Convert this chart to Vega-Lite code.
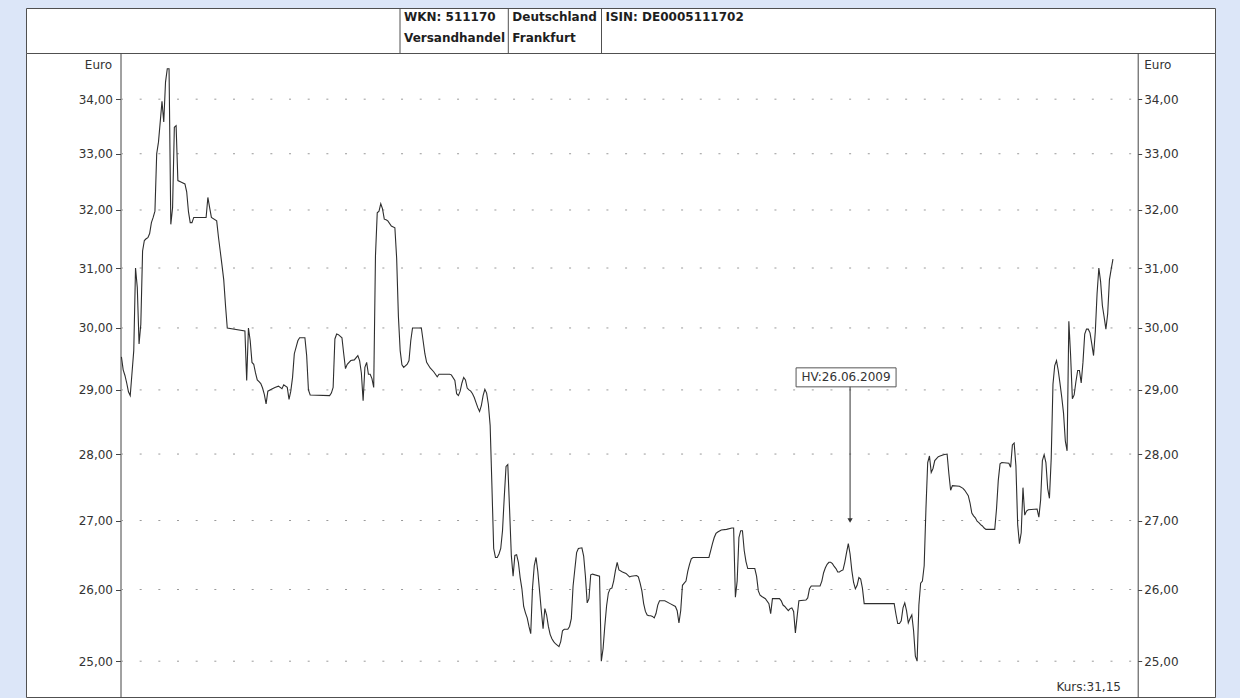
{
  "$schema": "https://vega.github.io/schema/vega-lite/v6.json",
  "background": "#dce6f8",
  "padding": {"left": 25, "top": 7, "right": 26, "bottom": 0},
  "spacing": 0,
  "bounds": "flush",
  "config": {
    "font": "DejaVu Sans",
    "view": {"stroke": "#505050", "strokeWidth": 1, "fill": "#ffffff"},
    "axis": {"labelFont": "DejaVu Sans", "titleFont": "DejaVu Sans"}
  },
  "vconcat": [
    {
      "width": 1189,
      "height": 45,
      "data": {"values": [
        {"col": 1, "line": "1", "text": "WKN: 511170"},
        {"col": 1, "line": "2", "text": "Versandhandel"},
        {"col": 2, "line": "1", "text": "Deutschland"},
        {"col": 2, "line": "2", "text": "Frankfurt"},
        {"col": 3, "line": "1", "text": "ISIN: DE0005111702"}
      ]},
      "layer": [
        {
          "transform": [{"filter": "datum.line == '1'"}],
          "mark": {"type": "rule", "stroke": "#505050", "strokeWidth": 1},
          "encoding": {
            "x": {"field": "col", "type": "quantitative", "axis": null,
                  "scale": {"domain": [0, 1, 2, 3, 4], "range": [0, 374, 482.3, 575.5, 1189], "nice": false, "zero": false}}
          }
        },
        {
          "mark": {"type": "text", "align": "left", "baseline": "middle", "dx": 4, "font": "DejaVu Sans", "fontWeight": "bold", "fontSize": 12, "color": "#1e1e1e"},
          "encoding": {
            "x": {"field": "col", "type": "quantitative", "axis": null,
                  "scale": {"domain": [0, 1, 2, 3, 4], "range": [0, 374, 482.3, 575.5, 1189], "nice": false, "zero": false}},
            "y": {"field": "line", "type": "ordinal", "axis": null,
                  "scale": {"type": "point", "domain": ["1", "2"], "padding": 0.571, "align": 0.3625}},
            "text": {"field": "text"}
          }
        }
      ]
    },
    {
      "width": 1189,
      "height": 644,
      "resolve": {"axis": {"y": "independent"}},
      "layer": [
        {
          "data": {"values": [{"value": 25}, {"value": 26}, {"value": 27}, {"value": 28}, {"value": 29}, {"value": 30}, {"value": 31}, {"value": 32}, {"value": 33}, {"value": 34}]},
          "mark": {"type": "rule", "stroke": "#9a9a9a", "strokeWidth": 1, "strokeDash": [2, 16.67]},
          "encoding": {
            "x": {"datum": {"year": 2008, "month": 5, "date": 8, "hours": 18, "minutes": 15, "utc": true}, "type": "temporal", "axis": null,
                  "scale": {"type": "utc", "domain": [{"year": 2008, "month": 3, "date": 15, "hours": 22, "minutes": 5, "utc": true}, {"year": 2010, "month": 1, "date": 18, "hours": 20, "minutes": 10, "utc": true}]}},
            "x2": {"datum": {"year": 2009, "month": 12, "date": 6, "hours": 5, "utc": true}},
            "y": {"field": "value", "type": "quantitative",
                  "scale": {"type": "log", "domain": [24.515, 34.87], "nice": false, "zero": false},
                  "axis": {"orient": "right", "offset": -77.3, "values": [25, 26, 27, 28, 29, 30, 31, 32, 33, 34],
                           "labelExpr": "replace(format(datum.value, '.2f'), '.', ',')",
                           "tickSize": 4, "tickColor": "#444", "domainColor": "#444", "labelPadding": 2,
                           "labelFontSize": 12, "labelColor": "#333", "labelOverlap": false, "grid": false,
                           "title": "Euro", "titleAngle": 0, "titleAlign": "left", "titleBaseline": "middle",
                           "titleX": 6, "titleY": 11, "titleFontSize": 12, "titleFontWeight": "normal", "titleColor": "#333"}}
          }
        },
        {
          "data": {"values": [
{"date":"2008-05-09","price":29.53},{"date":"2008-05-10","price":29.32},{"date":"2008-05-11","price":29.23},{"date":"2008-05-12","price":29.11},{"date":"2008-05-13","price":28.97},{"date":"2008-05-14","price":28.91},{"date":"2008-05-15","price":29.27},{"date":"2008-05-16","price":29.63},{"date":"2008-05-17","price":31.0},{"date":"2008-05-18","price":30.67},{"date":"2008-05-19","price":29.74},{"date":"2008-05-20","price":30.06},{"date":"2008-05-21","price":31.29},{"date":"2008-05-22","price":31.47},{"date":"2008-05-23","price":31.5},{"date":"2008-05-24","price":31.52},{"date":"2008-05-25","price":31.59},{"date":"2008-05-26","price":31.78},{"date":"2008-05-27","price":31.87},{"date":"2008-05-28","price":31.98},{"date":"2008-05-29","price":33.0},{"date":"2008-05-30","price":33.21},{"date":"2008-05-31","price":33.58},{"date":"2008-06-01","price":33.96},{"date":"2008-06-02","price":33.58},{"date":"2008-06-03","price":34.32},{"date":"2008-06-04","price":34.57},{"date":"2008-06-05","price":34.57},{"date":"2008-06-06","price":31.75},{"date":"2008-06-07","price":32.04},{"date":"2008-06-08","price":33.48},{"date":"2008-06-09","price":33.51},{"date":"2008-06-10","price":32.52},{"date":"2008-06-12","price":32.49},{"date":"2008-06-14","price":32.46},{"date":"2008-06-15","price":32.32},{"date":"2008-06-16","price":31.97},{"date":"2008-06-17","price":31.78},{"date":"2008-06-18","price":31.78},{"date":"2008-06-19","price":31.87},{"date":"2008-06-26","price":31.87},{"date":"2008-06-27","price":32.22},{"date":"2008-06-28","price":32.04},{"date":"2008-06-29","price":31.87},{"date":"2008-07-02","price":31.81},{"date":"2008-07-03","price":31.53},{"date":"2008-07-04","price":31.29},{"date":"2008-07-05","price":31.05},{"date":"2008-07-06","price":30.8},{"date":"2008-07-07","price":30.37},{"date":"2008-07-08","price":30.0},{"date":"2008-07-18","price":29.95},{"date":"2008-07-19","price":29.15},{"date":"2008-07-20","price":30.0},{"date":"2008-07-21","price":29.79},{"date":"2008-07-22","price":29.44},{"date":"2008-07-23","price":29.41},{"date":"2008-07-24","price":29.27},{"date":"2008-07-25","price":29.16},{"date":"2008-07-26","price":29.13},{"date":"2008-07-27","price":29.1},{"date":"2008-07-28","price":29.03},{"date":"2008-07-29","price":28.93},{"date":"2008-07-30","price":28.78},{"date":"2008-07-31","price":28.98},{"date":"2008-08-02","price":29.01},{"date":"2008-08-04","price":29.04},{"date":"2008-08-06","price":29.06},{"date":"2008-08-08","price":29.02},{"date":"2008-08-09","price":29.08},{"date":"2008-08-11","price":29.04},{"date":"2008-08-12","price":28.85},{"date":"2008-08-13","price":28.98},{"date":"2008-08-14","price":29.2},{"date":"2008-08-15","price":29.58},{"date":"2008-08-17","price":29.79},{"date":"2008-08-18","price":29.84},{"date":"2008-08-21","price":29.84},{"date":"2008-08-22","price":29.55},{"date":"2008-08-23","price":29.0},{"date":"2008-08-24","price":28.92},{"date":"2008-09-04","price":28.91},{"date":"2008-09-05","price":28.95},{"date":"2008-09-06","price":29.04},{"date":"2008-09-07","price":29.82},{"date":"2008-09-08","price":29.9},{"date":"2008-09-09","price":29.89},{"date":"2008-09-11","price":29.84},{"date":"2008-09-12","price":29.58},{"date":"2008-09-13","price":29.34},{"date":"2008-09-14","price":29.41},{"date":"2008-09-16","price":29.47},{"date":"2008-09-18","price":29.48},{"date":"2008-09-20","price":29.55},{"date":"2008-09-21","price":29.47},{"date":"2008-09-22","price":29.27},{"date":"2008-09-23","price":28.83},{"date":"2008-09-24","price":29.36},{"date":"2008-09-25","price":29.44},{"date":"2008-09-26","price":29.25},{"date":"2008-09-27","price":29.25},{"date":"2008-09-28","price":29.18},{"date":"2008-09-29","price":29.04},{"date":"2008-09-30","price":31.21},{"date":"2008-10-01","price":31.95},{"date":"2008-10-02","price":31.98},{"date":"2008-10-03","price":32.11},{"date":"2008-10-04","price":32.02},{"date":"2008-10-05","price":31.84},{"date":"2008-10-06","price":31.83},{"date":"2008-10-07","price":31.81},{"date":"2008-10-09","price":31.72},{"date":"2008-10-11","price":31.69},{"date":"2008-10-12","price":31.17},{"date":"2008-10-13","price":30.19},{"date":"2008-10-14","price":29.63},{"date":"2008-10-15","price":29.4},{"date":"2008-10-16","price":29.36},{"date":"2008-10-18","price":29.41},{"date":"2008-10-19","price":29.47},{"date":"2008-10-20","price":29.79},{"date":"2008-10-21","price":30.0},{"date":"2008-10-26","price":30.0},{"date":"2008-10-27","price":29.79},{"date":"2008-10-28","price":29.58},{"date":"2008-10-29","price":29.44},{"date":"2008-10-31","price":29.35},{"date":"2008-11-02","price":29.29},{"date":"2008-11-04","price":29.21},{"date":"2008-11-05","price":29.25},{"date":"2008-11-11","price":29.25},{"date":"2008-11-12","price":29.24},{"date":"2008-11-14","price":29.15},{"date":"2008-11-15","price":28.94},{"date":"2008-11-16","price":28.91},{"date":"2008-11-17","price":28.98},{"date":"2008-11-18","price":29.11},{"date":"2008-11-19","price":29.2},{"date":"2008-11-20","price":29.16},{"date":"2008-11-21","price":29.03},{"date":"2008-11-22","price":29.0},{"date":"2008-11-23","price":28.98},{"date":"2008-11-24","price":28.94},{"date":"2008-11-25","price":28.88},{"date":"2008-11-26","price":28.8},{"date":"2008-11-27","price":28.72},{"date":"2008-11-28","price":28.66},{"date":"2008-11-29","price":28.75},{"date":"2008-11-30","price":28.91},{"date":"2008-12-01","price":29.01},{"date":"2008-12-02","price":28.95},{"date":"2008-12-03","price":28.77},{"date":"2008-12-04","price":28.44},{"date":"2008-12-05","price":27.52},{"date":"2008-12-06","price":26.59},{"date":"2008-12-07","price":26.46},{"date":"2008-12-08","price":26.46},{"date":"2008-12-09","price":26.51},{"date":"2008-12-10","price":26.59},{"date":"2008-12-11","price":26.85},{"date":"2008-12-12","price":27.35},{"date":"2008-12-13","price":27.81},{"date":"2008-12-14","price":27.84},{"date":"2008-12-15","price":27.17},{"date":"2008-12-16","price":26.49},{"date":"2008-12-17","price":26.19},{"date":"2008-12-18","price":26.49},{"date":"2008-12-19","price":26.5},{"date":"2008-12-20","price":26.39},{"date":"2008-12-21","price":26.17},{"date":"2008-12-22","price":26.01},{"date":"2008-12-23","price":25.76},{"date":"2008-12-24","price":25.67},{"date":"2008-12-25","price":25.6},{"date":"2008-12-26","price":25.48},{"date":"2008-12-27","price":25.38},{"date":"2008-12-28","price":26.02},{"date":"2008-12-29","price":26.34},{"date":"2008-12-30","price":26.46},{"date":"2008-12-31","price":26.26},{"date":"2009-01-01","price":25.98},{"date":"2009-01-02","price":25.7},{"date":"2009-01-03","price":25.45},{"date":"2009-01-04","price":25.73},{"date":"2009-01-05","price":25.64},{"date":"2009-01-06","price":25.48},{"date":"2009-01-07","price":25.37},{"date":"2009-01-08","price":25.31},{"date":"2009-01-09","price":25.27},{"date":"2009-01-10","price":25.24},{"date":"2009-01-11","price":25.22},{"date":"2009-01-12","price":25.2},{"date":"2009-01-13","price":25.27},{"date":"2009-01-14","price":25.42},{"date":"2009-01-15","price":25.44},{"date":"2009-01-17","price":25.44},{"date":"2009-01-18","price":25.48},{"date":"2009-01-19","price":25.59},{"date":"2009-01-20","price":26.05},{"date":"2009-01-21","price":26.29},{"date":"2009-01-22","price":26.53},{"date":"2009-01-23","price":26.59},{"date":"2009-01-25","price":26.6},{"date":"2009-01-26","price":26.48},{"date":"2009-01-27","price":26.19},{"date":"2009-01-28","price":25.81},{"date":"2009-01-29","price":25.87},{"date":"2009-01-30","price":26.21},{"date":"2009-01-31","price":26.22},{"date":"2009-02-04","price":26.19},{"date":"2009-02-05","price":25.0},{"date":"2009-02-06","price":25.17},{"date":"2009-02-07","price":25.49},{"date":"2009-02-08","price":25.77},{"date":"2009-02-09","price":25.95},{"date":"2009-02-10","price":26.01},{"date":"2009-02-11","price":26.02},{"date":"2009-02-12","price":26.12},{"date":"2009-02-13","price":26.27},{"date":"2009-02-14","price":26.39},{"date":"2009-02-15","price":26.28},{"date":"2009-02-17","price":26.25},{"date":"2009-02-19","price":26.23},{"date":"2009-02-21","price":26.18},{"date":"2009-02-22","price":26.19},{"date":"2009-02-25","price":26.2},{"date":"2009-02-26","price":26.18},{"date":"2009-02-27","price":26.09},{"date":"2009-02-28","price":25.98},{"date":"2009-03-01","price":25.8},{"date":"2009-03-02","price":25.69},{"date":"2009-03-03","price":25.64},{"date":"2009-03-04","price":25.63},{"date":"2009-03-05","price":25.63},{"date":"2009-03-06","price":25.62},{"date":"2009-03-07","price":25.6},{"date":"2009-03-08","price":25.66},{"date":"2009-03-09","price":25.78},{"date":"2009-03-10","price":25.84},{"date":"2009-03-13","price":25.84},{"date":"2009-03-16","price":25.8},{"date":"2009-03-19","price":25.76},{"date":"2009-03-20","price":25.7},{"date":"2009-03-21","price":25.53},{"date":"2009-03-22","price":25.7},{"date":"2009-03-23","price":26.06},{"date":"2009-03-24","price":26.09},{"date":"2009-03-25","price":26.12},{"date":"2009-03-26","price":26.26},{"date":"2009-03-27","price":26.36},{"date":"2009-03-28","price":26.44},{"date":"2009-03-29","price":26.46},{"date":"2009-04-07","price":26.46},{"date":"2009-04-08","price":26.56},{"date":"2009-04-09","price":26.66},{"date":"2009-04-10","price":26.75},{"date":"2009-04-11","price":26.81},{"date":"2009-04-12","price":26.83},{"date":"2009-04-14","price":26.86},{"date":"2009-04-17","price":26.87},{"date":"2009-04-20","price":26.89},{"date":"2009-04-21","price":26.89},{"date":"2009-04-22","price":25.89},{"date":"2009-04-23","price":26.12},{"date":"2009-04-24","price":26.75},{"date":"2009-04-25","price":26.85},{"date":"2009-04-26","price":26.85},{"date":"2009-04-27","price":26.56},{"date":"2009-04-28","price":26.4},{"date":"2009-04-29","price":26.3},{"date":"2009-05-03","price":26.3},{"date":"2009-05-04","price":26.19},{"date":"2009-05-05","price":25.98},{"date":"2009-05-06","price":25.92},{"date":"2009-05-07","price":25.9},{"date":"2009-05-09","price":25.87},{"date":"2009-05-11","price":25.8},{"date":"2009-05-12","price":25.66},{"date":"2009-05-13","price":25.87},{"date":"2009-05-17","price":25.87},{"date":"2009-05-18","price":25.84},{"date":"2009-05-19","price":25.78},{"date":"2009-05-20","price":25.76},{"date":"2009-05-21","price":25.73},{"date":"2009-05-22","price":25.7},{"date":"2009-05-23","price":25.73},{"date":"2009-05-24","price":25.74},{"date":"2009-05-25","price":25.69},{"date":"2009-05-26","price":25.39},{"date":"2009-05-27","price":25.62},{"date":"2009-05-28","price":25.84},{"date":"2009-06-01","price":25.85},{"date":"2009-06-02","price":25.88},{"date":"2009-06-03","price":26.01},{"date":"2009-06-04","price":26.05},{"date":"2009-06-09","price":26.05},{"date":"2009-06-10","price":26.12},{"date":"2009-06-11","price":26.24},{"date":"2009-06-12","price":26.31},{"date":"2009-06-13","price":26.36},{"date":"2009-06-14","price":26.39},{"date":"2009-06-15","price":26.39},{"date":"2009-06-16","price":26.37},{"date":"2009-06-17","price":26.33},{"date":"2009-06-18","price":26.3},{"date":"2009-06-19","price":26.25},{"date":"2009-06-20","price":26.25},{"date":"2009-06-21","price":26.27},{"date":"2009-06-22","price":26.28},{"date":"2009-06-23","price":26.39},{"date":"2009-06-24","price":26.53},{"date":"2009-06-25","price":26.66},{"date":"2009-06-26","price":26.51},{"date":"2009-06-27","price":26.27},{"date":"2009-06-28","price":26.1},{"date":"2009-06-29","price":26.01},{"date":"2009-06-30","price":26.06},{"date":"2009-07-01","price":26.17},{"date":"2009-07-02","price":26.15},{"date":"2009-07-03","price":26.02},{"date":"2009-07-04","price":25.8},{"date":"2009-07-21","price":25.8},{"date":"2009-07-22","price":25.65},{"date":"2009-07-23","price":25.52},{"date":"2009-07-24","price":25.52},{"date":"2009-07-25","price":25.56},{"date":"2009-07-26","price":25.74},{"date":"2009-07-27","price":25.81},{"date":"2009-07-28","price":25.7},{"date":"2009-07-29","price":25.53},{"date":"2009-07-30","price":25.59},{"date":"2009-07-31","price":25.64},{"date":"2009-08-01","price":25.42},{"date":"2009-08-02","price":25.07},{"date":"2009-08-03","price":25.0},{"date":"2009-08-04","price":25.78},{"date":"2009-08-05","price":26.09},{"date":"2009-08-06","price":26.12},{"date":"2009-08-07","price":26.34},{"date":"2009-08-08","price":27.17},{"date":"2009-08-09","price":27.87},{"date":"2009-08-10","price":27.97},{"date":"2009-08-11","price":27.72},{"date":"2009-08-12","price":27.78},{"date":"2009-08-13","price":27.9},{"date":"2009-08-14","price":27.93},{"date":"2009-08-15","price":27.96},{"date":"2009-08-16","price":27.97},{"date":"2009-08-18","price":27.99},{"date":"2009-08-20","price":28.0},{"date":"2009-08-21","price":27.7},{"date":"2009-08-22","price":27.45},{"date":"2009-08-23","price":27.52},{"date":"2009-08-27","price":27.51},{"date":"2009-08-29","price":27.48},{"date":"2009-08-30","price":27.45},{"date":"2009-08-31","price":27.41},{"date":"2009-09-01","price":27.37},{"date":"2009-09-02","price":27.26},{"date":"2009-09-03","price":27.11},{"date":"2009-09-04","price":27.07},{"date":"2009-09-05","price":27.04},{"date":"2009-09-06","price":26.99},{"date":"2009-09-07","price":26.97},{"date":"2009-09-08","price":26.94},{"date":"2009-09-09","price":26.92},{"date":"2009-09-10","price":26.89},{"date":"2009-09-11","price":26.87},{"date":"2009-09-16","price":26.87},{"date":"2009-09-17","price":27.17},{"date":"2009-09-18","price":27.6},{"date":"2009-09-19","price":27.85},{"date":"2009-09-20","price":27.87},{"date":"2009-09-24","price":27.86},{"date":"2009-09-25","price":27.8},{"date":"2009-09-26","price":28.14},{"date":"2009-09-27","price":28.17},{"date":"2009-09-28","price":27.82},{"date":"2009-09-29","price":26.94},{"date":"2009-09-30","price":26.66},{"date":"2009-10-01","price":26.82},{"date":"2009-10-02","price":27.49},{"date":"2009-10-03","price":27.08},{"date":"2009-10-04","price":27.14},{"date":"2009-10-05","price":27.16},{"date":"2009-10-10","price":27.17},{"date":"2009-10-11","price":27.05},{"date":"2009-10-12","price":27.3},{"date":"2009-10-13","price":27.9},{"date":"2009-10-14","price":27.99},{"date":"2009-10-15","price":27.87},{"date":"2009-10-16","price":27.48},{"date":"2009-10-17","price":27.33},{"date":"2009-10-18","price":27.93},{"date":"2009-10-19","price":29.09},{"date":"2009-10-20","price":29.39},{"date":"2009-10-21","price":29.47},{"date":"2009-10-22","price":29.31},{"date":"2009-10-23","price":29.1},{"date":"2009-10-24","price":28.88},{"date":"2009-10-25","price":28.63},{"date":"2009-10-26","price":28.2},{"date":"2009-10-27","price":28.05},{"date":"2009-10-28","price":30.11},{"date":"2009-10-29","price":29.55},{"date":"2009-10-30","price":28.86},{"date":"2009-10-31","price":28.92},{"date":"2009-11-01","price":29.13},{"date":"2009-11-02","price":29.31},{"date":"2009-11-03","price":29.31},{"date":"2009-11-04","price":29.11},{"date":"2009-11-05","price":29.44},{"date":"2009-11-06","price":29.9},{"date":"2009-11-07","price":29.98},{"date":"2009-11-08","price":29.98},{"date":"2009-11-09","price":29.92},{"date":"2009-11-10","price":29.74},{"date":"2009-11-11","price":29.55},{"date":"2009-11-12","price":29.94},{"date":"2009-11-13","price":30.57},{"date":"2009-11-14","price":31.0},{"date":"2009-11-15","price":30.77},{"date":"2009-11-16","price":30.37},{"date":"2009-11-17","price":30.18},{"date":"2009-11-18","price":29.98},{"date":"2009-11-19","price":30.23},{"date":"2009-11-20","price":30.8},{"date":"2009-11-21","price":30.98},{"date":"2009-11-22","price":31.15}
          ]},
          "mark": {"type": "line", "stroke": "#2e2e2e", "strokeWidth": 1.1},
          "encoding": {
            "x": {"field": "date", "type": "temporal",
                  "scale": {"type": "utc", "domain": [{"year": 2008, "month": 3, "date": 15, "hours": 22, "minutes": 5, "utc": true}, {"year": 2010, "month": 1, "date": 18, "hours": 20, "minutes": 10, "utc": true}]},
                  "axis": {"orient": "bottom", "labels": false, "domain": false, "grid": false, "ticks": true, "tickSize": 2, "tickColor": "#666", "title": null,
                           "values": [
                             {"year": 2008, "month": 6, "date": 1, "utc": true}, {"year": 2008, "month": 7, "date": 1, "utc": true},
                             {"year": 2008, "month": 8, "date": 1, "utc": true}, {"year": 2008, "month": 9, "date": 1, "utc": true},
                             {"year": 2008, "month": 10, "date": 1, "utc": true}, {"year": 2008, "month": 11, "date": 1, "utc": true},
                             {"year": 2008, "month": 12, "date": 1, "utc": true}, {"year": 2009, "month": 1, "date": 1, "utc": true},
                             {"year": 2009, "month": 2, "date": 1, "utc": true}, {"year": 2009, "month": 3, "date": 1, "utc": true},
                             {"year": 2009, "month": 4, "date": 1, "utc": true}, {"year": 2009, "month": 5, "date": 1, "utc": true},
                             {"year": 2009, "month": 6, "date": 1, "utc": true}, {"year": 2009, "month": 7, "date": 1, "utc": true},
                             {"year": 2009, "month": 8, "date": 1, "utc": true}, {"year": 2009, "month": 9, "date": 1, "utc": true},
                             {"year": 2009, "month": 10, "date": 1, "utc": true}, {"year": 2009, "month": 11, "date": 1, "utc": true}
                           ]}},
            "y": {"field": "price", "type": "quantitative",
                  "scale": {"type": "log", "domain": [24.515, 34.87], "nice": false, "zero": false},
                  "axis": {"orient": "left", "offset": -94.5, "values": [25, 26, 27, 28, 29, 30, 31, 32, 33, 34],
                           "labelExpr": "replace(format(datum.value, '.2f'), '.', ',')",
                           "tickSize": 5, "tickColor": "#444", "domainColor": "#444", "labelPadding": 3,
                           "labelFontSize": 12, "labelColor": "#333", "labelOverlap": false, "grid": false,
                           "title": "Euro", "titleAngle": 0, "titleAlign": "right", "titleBaseline": "middle",
                           "titleX": -9, "titleY": 11, "titleFontSize": 12, "titleFontWeight": "normal", "titleColor": "#333"}}
          }
        },
        {
          "data": {"values": [{"date": "2009-06-26", "label": "HV:26.06.2009", "boxPrice": 29.2, "tipPrice": 27.0}]},
          "layer": [
            {
              "mark": {"type": "rule", "stroke": "#333", "strokeWidth": 1},
              "encoding": {
                "x": {"field": "date", "type": "temporal", "axis": null},
                "y": {"field": "boxPrice", "type": "quantitative", "axis": null},
                "y2": {"field": "tipPrice"}
              }
            },
            {
              "mark": {"type": "point", "shape": "triangle-down", "size": 28, "filled": true, "color": "#333", "opacity": 1},
              "encoding": {
                "x": {"field": "date", "type": "temporal", "axis": null},
                "y": {"field": "tipPrice", "type": "quantitative", "axis": null}
              }
            },
            {
              "mark": {"type": "point", "shape": "M-1,-0.19H1V0.19H-1Z", "size": 10000, "filled": true, "fill": "#ffffff", "stroke": "#555", "strokeWidth": 1, "opacity": 1, "xOffset": -4},
              "encoding": {
                "x": {"field": "date", "type": "temporal", "axis": null},
                "y": {"field": "boxPrice", "type": "quantitative", "axis": null}
              }
            },
            {
              "mark": {"type": "text", "align": "center", "baseline": "middle", "dx": -4, "fontSize": 12, "color": "#333"},
              "encoding": {
                "x": {"field": "date", "type": "temporal", "axis": null},
                "y": {"field": "boxPrice", "type": "quantitative", "axis": null},
                "text": {"field": "label"}
              }
            }
          ]
        },
        {
          "data": {"values": [{"date": "2009-11-22", "label": "Kurs:31,15"}]},
          "mark": {"type": "text", "align": "right", "baseline": "middle", "dx": 8, "y": "height", "dy": -10, "fontSize": 12, "color": "#333"},
          "encoding": {
            "x": {"field": "date", "type": "temporal", "axis": null},
            "text": {"field": "label"}
          }
        }
      ]
    }
  ]
}
